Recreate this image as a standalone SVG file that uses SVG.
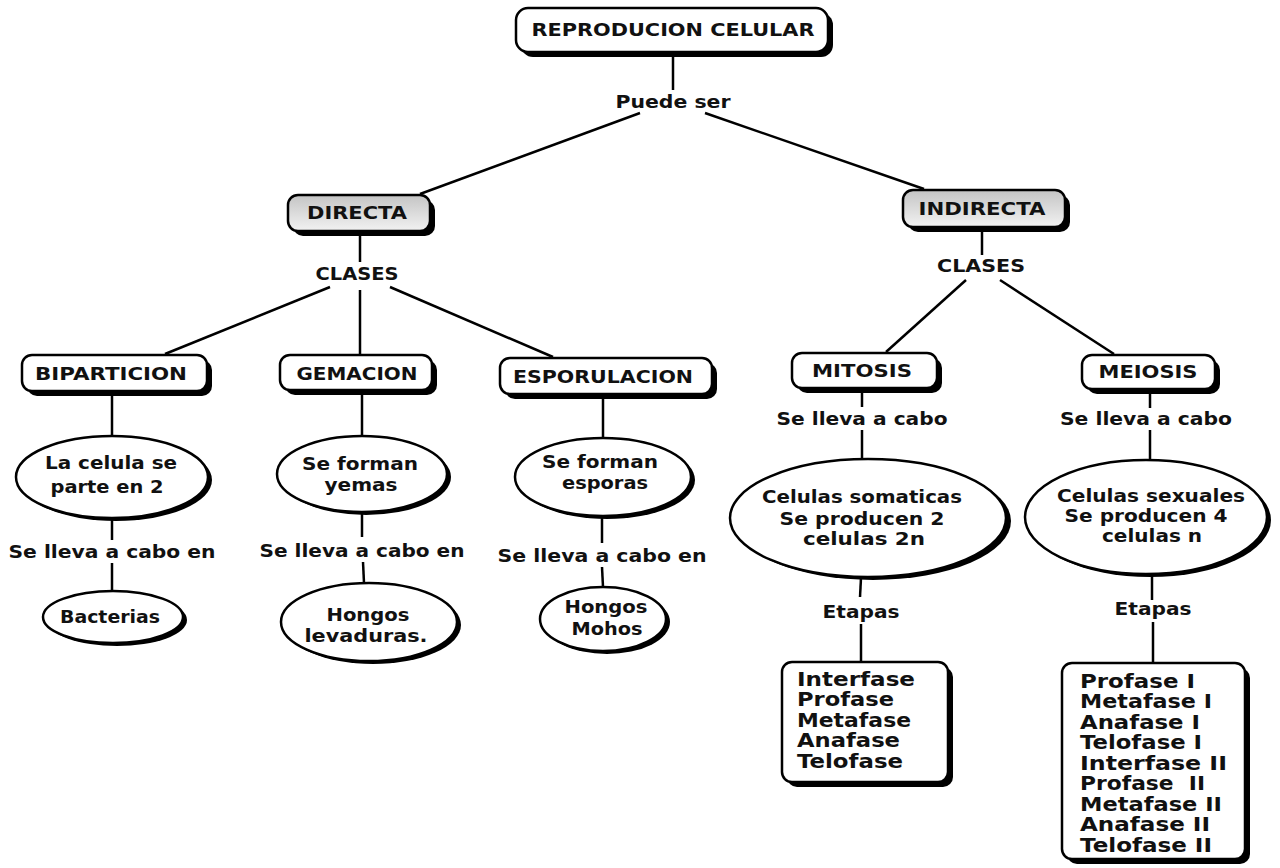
<svg xmlns="http://www.w3.org/2000/svg" width="1280" height="868" viewBox="0 0 1280 868">
<defs>
<linearGradient id="grey" x1="0" y1="0" x2="0" y2="1">
<stop offset="0" stop-color="#c4c4c4"/>
<stop offset="1" stop-color="#f2f2f2"/>
</linearGradient>
<style>
.sh{fill:#000;stroke:none}
.bx{fill:#fff;stroke:#000;stroke-width:2.5}
.gb{fill:url(#grey);stroke:#000;stroke-width:2.5}
.ln{stroke:#000;stroke-width:2.5;fill:none}
text{font-family:"DejaVu Sans","Liberation Sans",sans-serif;font-weight:bold;fill:#111}
.t{font-size:17px;text-anchor:middle}
.l{font-size:18px;text-anchor:middle}
.s{font-size:19px;font-weight:900}
</style>
</defs>
<rect width="1280" height="868" fill="#fff"/>
<g id="connectors">
<line class="ln" x1="673" y1="55" x2="673" y2="90"/>
<line class="ln" x1="640" y1="113" x2="420" y2="194"/>
<line class="ln" x1="705" y1="113" x2="924" y2="189"/>
<line class="ln" x1="360" y1="233" x2="360" y2="262"/>
<line class="ln" x1="330" y1="287" x2="165" y2="354"/>
<line class="ln" x1="360" y1="290" x2="360" y2="355"/>
<line class="ln" x1="390" y1="287" x2="553" y2="357"/>
<line class="ln" x1="982" y1="230" x2="982" y2="255"/>
<line class="ln" x1="966" y1="280" x2="886" y2="352"/>
<line class="ln" x1="1000" y1="280" x2="1114" y2="354"/>
<line class="ln" x1="112" y1="394" x2="112" y2="436"/>
<line class="ln" x1="112" y1="518" x2="112" y2="540"/>
<line class="ln" x1="112" y1="563" x2="112" y2="591"/>
<line class="ln" x1="362" y1="393" x2="362" y2="436"/>
<line class="ln" x1="362" y1="512" x2="362" y2="537"/>
<line class="ln" x1="363" y1="562" x2="364" y2="583"/>
<line class="ln" x1="603" y1="397" x2="603" y2="438"/>
<line class="ln" x1="602" y1="516" x2="602" y2="543"/>
<line class="ln" x1="602" y1="567" x2="603" y2="587"/>
<line class="ln" x1="862" y1="391" x2="862" y2="407"/>
<line class="ln" x1="862" y1="430" x2="862" y2="458"/>
<line class="ln" x1="861" y1="578" x2="860" y2="597"/>
<line class="ln" x1="861" y1="624" x2="861" y2="662"/>
<line class="ln" x1="1150" y1="392" x2="1150" y2="408"/>
<line class="ln" x1="1150" y1="430" x2="1150" y2="460"/>
<line class="ln" x1="1152" y1="574" x2="1152" y2="600"/>
<line class="ln" x1="1153" y1="622" x2="1153" y2="663"/>
</g>
<g id="labels">
<text class="l" x="673" y="108" textLength="115" lengthAdjust="spacingAndGlyphs">Puede ser</text>
<text class="l" x="357" y="280" textLength="83" lengthAdjust="spacingAndGlyphs">CLASES</text>
<text class="l" x="981" y="272" textLength="88" lengthAdjust="spacingAndGlyphs">CLASES</text>
<text class="l" x="112" y="558" textLength="207" lengthAdjust="spacingAndGlyphs">Se lleva a cabo en</text>
<text class="l" x="362" y="557" textLength="205" lengthAdjust="spacingAndGlyphs">Se lleva a cabo en</text>
<text class="l" x="602" y="562" textLength="209" lengthAdjust="spacingAndGlyphs">Se lleva a cabo en</text>
<text class="l" x="862" y="425" textLength="171" lengthAdjust="spacingAndGlyphs">Se lleva a cabo</text>
<text class="l" x="1146" y="425" textLength="172" lengthAdjust="spacingAndGlyphs">Se lleva a cabo</text>
<text class="l" x="861" y="618" textLength="77" lengthAdjust="spacingAndGlyphs">Etapas</text>
<text class="l" x="1153" y="615" textLength="77" lengthAdjust="spacingAndGlyphs">Etapas</text>
</g>
<g id="n-reproduccion">
<rect class="sh" x="521" y="13" width="312" height="44" rx="12"/>
<rect class="bx" x="516" y="8" width="312" height="44" rx="12"/>
<text class="t" x="673" y="36" textLength="283" lengthAdjust="spacingAndGlyphs">REPRODUCION CELULAR</text>
</g>
<g id="n-directa">
<rect class="sh" x="293" y="200" width="142" height="36" rx="10"/>
<rect class="gb" x="288" y="195" width="142" height="36" rx="10"/>
<text class="t" x="357" y="219" textLength="100" lengthAdjust="spacingAndGlyphs">DIRECTA</text>
</g>
<g id="n-indirecta">
<rect class="sh" x="908" y="195" width="162" height="37" rx="10"/>
<rect class="gb" x="903" y="190" width="162" height="37" rx="10"/>
<text class="t" x="982" y="215" textLength="127" lengthAdjust="spacingAndGlyphs">INDIRECTA</text>
</g>
<g id="n-biparticion">
<rect class="sh" x="27" y="360" width="185" height="36" rx="10"/>
<rect class="bx" x="22" y="355" width="185" height="36" rx="10"/>
<text class="t" x="111" y="380" textLength="152" lengthAdjust="spacingAndGlyphs">BIPARTICION</text>
</g>
<g id="n-gemacion">
<rect class="sh" x="285" y="360" width="152" height="35" rx="10"/>
<rect class="bx" x="280" y="355" width="152" height="35" rx="10"/>
<text class="t" x="357" y="380" textLength="121" lengthAdjust="spacingAndGlyphs">GEMACION</text>
</g>
<g id="n-esporulacion">
<rect class="sh" x="505" y="363" width="212" height="36" rx="10"/>
<rect class="bx" x="500" y="358" width="212" height="36" rx="10"/>
<text class="t" x="603" y="383" textLength="180" lengthAdjust="spacingAndGlyphs">ESPORULACION</text>
</g>
<g id="n-mitosis">
<rect class="sh" x="797" y="358" width="145" height="35" rx="10"/>
<rect class="bx" x="792" y="353" width="145" height="35" rx="10"/>
<text class="t" x="862" y="377" textLength="100" lengthAdjust="spacingAndGlyphs">MITOSIS</text>
</g>
<g id="n-meiosis">
<rect class="sh" x="1087" y="360" width="133" height="34" rx="10"/>
<rect class="bx" x="1082" y="355" width="133" height="34" rx="10"/>
<text class="t" x="1148" y="378" textLength="99" lengthAdjust="spacingAndGlyphs">MEIOSIS</text>
</g>
<g id="n-celula-parte">
<ellipse class="sh" cx="116" cy="480" rx="96" ry="41"/>
<ellipse class="bx" cx="112" cy="477" rx="96" ry="41"/>
<text class="l" x="111" y="469" textLength="132" lengthAdjust="spacingAndGlyphs">La celula se</text>
<text class="l" x="107" y="493" textLength="113" lengthAdjust="spacingAndGlyphs">parte en 2</text>
</g>
<g id="n-bacterias">
<ellipse class="sh" cx="117" cy="620" rx="70" ry="26"/>
<ellipse class="bx" cx="113" cy="617" rx="70" ry="26"/>
<text class="l" x="110" y="623" textLength="100" lengthAdjust="spacingAndGlyphs">Bacterias</text>
</g>
<g id="n-yemas">
<ellipse class="sh" cx="366" cy="477" rx="85" ry="38"/>
<ellipse class="bx" cx="362" cy="474" rx="85" ry="38"/>
<text class="l" x="360" y="470" textLength="116" lengthAdjust="spacingAndGlyphs">Se forman</text>
<text class="l" x="361" y="491" textLength="73" lengthAdjust="spacingAndGlyphs">yemas</text>
</g>
<g id="n-levaduras">
<ellipse class="sh" cx="373" cy="625" rx="88" ry="39"/>
<ellipse class="bx" cx="369" cy="622" rx="88" ry="39"/>
<text class="l" x="368" y="621" textLength="83" lengthAdjust="spacingAndGlyphs">Hongos</text>
<text class="l" x="366" y="642" textLength="123" lengthAdjust="spacingAndGlyphs">levaduras.</text>
</g>
<g id="n-esporas">
<ellipse class="sh" cx="607" cy="480" rx="88" ry="39"/>
<ellipse class="bx" cx="603" cy="477" rx="88" ry="39"/>
<text class="l" x="600" y="468" textLength="116" lengthAdjust="spacingAndGlyphs">Se forman</text>
<text class="l" x="605" y="489" textLength="86" lengthAdjust="spacingAndGlyphs">esporas</text>
</g>
<g id="n-mohos">
<ellipse class="sh" cx="607" cy="622" rx="63" ry="32"/>
<ellipse class="bx" cx="603" cy="619" rx="63" ry="32"/>
<text class="l" x="606" y="613" textLength="83" lengthAdjust="spacingAndGlyphs">Hongos</text>
<text class="l" x="607" y="635" textLength="71" lengthAdjust="spacingAndGlyphs">Mohos</text>
</g>
<g id="n-somaticas">
<ellipse class="sh" cx="873" cy="521" rx="138" ry="59"/>
<ellipse class="bx" cx="868" cy="518" rx="138" ry="59"/>
<text class="l" x="862" y="503" textLength="200" lengthAdjust="spacingAndGlyphs">Celulas somaticas</text>
<text class="l" x="862" y="525" textLength="165" lengthAdjust="spacingAndGlyphs">Se producen 2</text>
<text class="l" x="864" y="545" textLength="122" lengthAdjust="spacingAndGlyphs">celulas 2n</text>
</g>
<g id="n-sexuales">
<ellipse class="sh" cx="1150" cy="520" rx="121" ry="57"/>
<ellipse class="bx" cx="1146" cy="517" rx="121" ry="57"/>
<text class="l" x="1151" y="502" textLength="188" lengthAdjust="spacingAndGlyphs">Celulas sexuales</text>
<text class="l" x="1146" y="522" textLength="163" lengthAdjust="spacingAndGlyphs">Se producen 4</text>
<text class="l" x="1152" y="542" textLength="100" lengthAdjust="spacingAndGlyphs">celulas n</text>
</g>
<g id="n-etapas-mitosis">
<rect class="sh" x="787" y="667" width="166" height="120" rx="10"/>
<rect class="bx" x="782" y="662" width="166" height="120" rx="10"/>
<text class="s" x="797" y="686" textLength="118" lengthAdjust="spacingAndGlyphs">Interfase</text>
<text class="s" x="797" y="706" textLength="97" lengthAdjust="spacingAndGlyphs">Profase</text>
<text class="s" x="797" y="727" textLength="114" lengthAdjust="spacingAndGlyphs">Metafase</text>
<text class="s" x="797" y="747" textLength="103" lengthAdjust="spacingAndGlyphs">Anafase</text>
<text class="s" x="797" y="768" textLength="106" lengthAdjust="spacingAndGlyphs">Telofase</text>
</g>
<g id="n-etapas-meiosis">
<rect class="sh" x="1067" y="668" width="183" height="196" rx="10"/>
<rect class="bx" x="1062" y="663" width="183" height="196" rx="10"/>
<text class="s" x="1080" y="688" textLength="115" lengthAdjust="spacingAndGlyphs">Profase I</text>
<text class="s" x="1080" y="708" textLength="132" lengthAdjust="spacingAndGlyphs">Metafase I</text>
<text class="s" x="1080" y="729" textLength="120" lengthAdjust="spacingAndGlyphs">Anafase I</text>
<text class="s" x="1080" y="749" textLength="122" lengthAdjust="spacingAndGlyphs">Telofase I</text>
<text class="s" x="1080" y="770" textLength="147" lengthAdjust="spacingAndGlyphs">Interfase II</text>
<text class="s" x="1080" y="790" textLength="125" lengthAdjust="spacingAndGlyphs" xml:space="preserve">Profase  II</text>
<text class="s" x="1080" y="811" textLength="142" lengthAdjust="spacingAndGlyphs">Metafase II</text>
<text class="s" x="1080" y="831" textLength="130" lengthAdjust="spacingAndGlyphs">Anafase II</text>
<text class="s" x="1080" y="852" textLength="132" lengthAdjust="spacingAndGlyphs">Telofase II</text>
</g>
</svg>
